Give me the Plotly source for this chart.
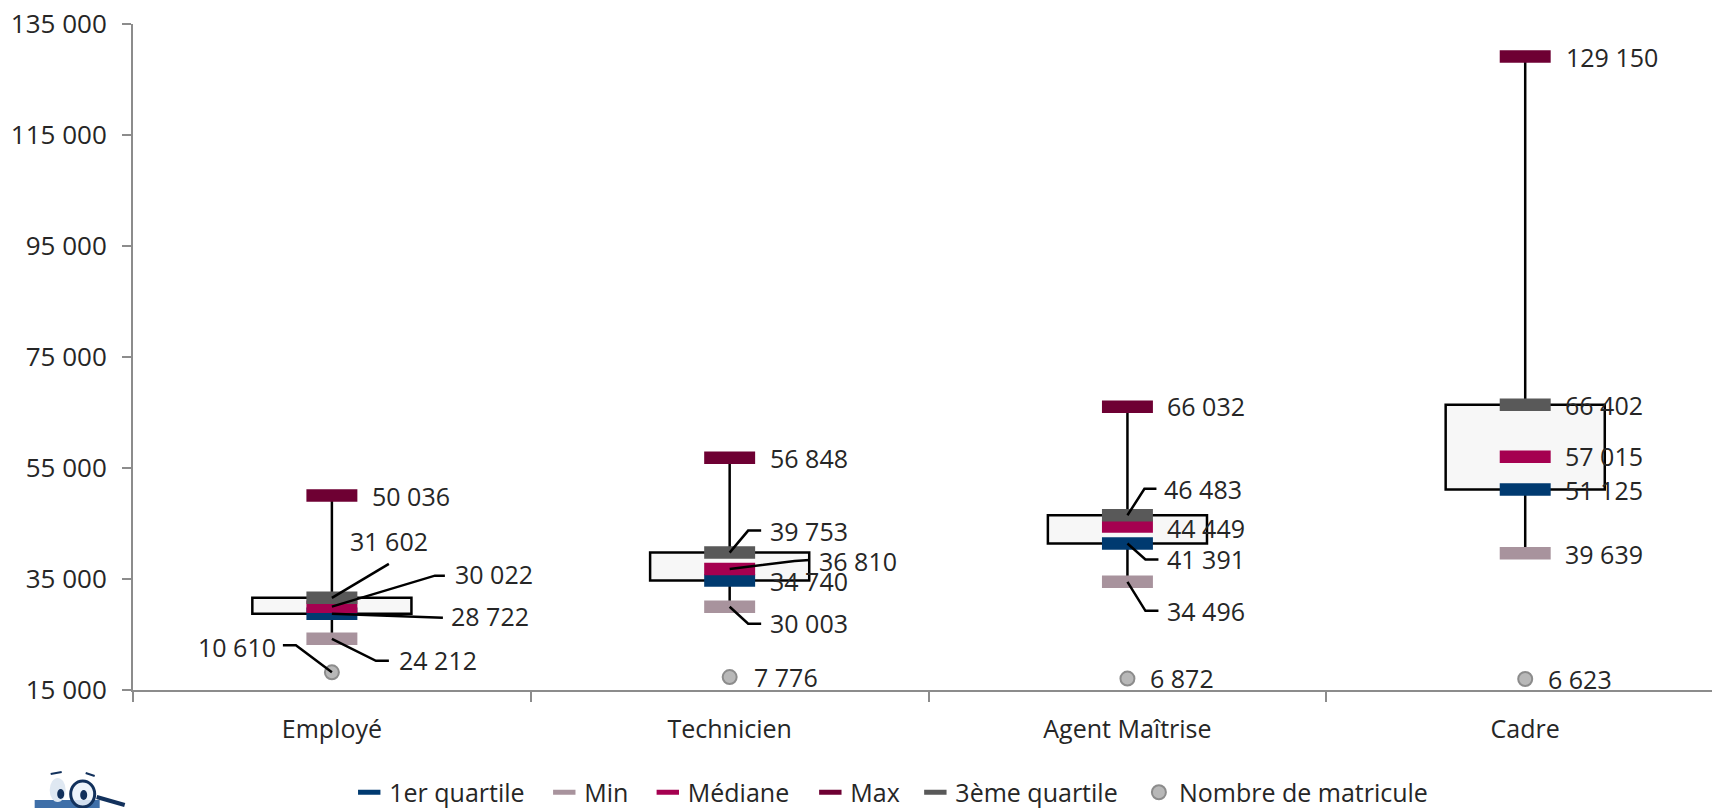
import plotly.graph_objects as go

# ---------- data ----------
categories = ["Employé", "Technicien", "Agent Maîtrise", "Cadre"]
q1_values = [28722, 34740, 41391, 51125]
min_values = [24212, 30003, 34496, 39639]
median_values = [30022, 36810, 44449, 57015]
max_values = [50036, 56848, 66032, 129150]
q3_values = [31602, 39753, 46483, 66402]
count_values = [10610, 7776, 6872, 6623]
y_ticks = [15000, 35000, 55000, 75000, 95000, 115000, 135000]

# ---------- styling ----------
FONT = "Open Sans"
FS = 25
TXT = "#262626"
AXIS = "#8c8c8c"
W, H = 1712, 840   # page is clipped to 808 in the window
L, T, B = 133.3, 24, 690
UNIT = 397.7

# label offsets in pixels: left edge relative to category centre, height above the value
label_offsets = {
    "q1": [(119, -4), (40.5, -2), (40, -17), (40, -1.5)],
    "min": [(67, -23), (40, -18), (40, -31), (40, -2)],
    "med": [(123, 31), (89, 6), (40, -2.5), (40, -1)],
    "max": [(40.5, -2), (40.5, -2), (40, -1), (41, -2.5)],
    "q3": [(18, 55), (40, 20), (37, 25), (40, -2)],
    "n": [(-134, 24), (24.5, -1), (23, -1), (23, -2)],
}
LABEL_DX, LABEL_DY = -2, 1.5
# leader lines: series, category index, pixel polyline from the value
leaders = [
    ("q3", 0, [(57, 34)]),
    ("med", 0, [(103, 31), (113, 31)]),
    ("q1", 0, [(111, -4)]),
    ("min", 0, [(44, -22), (57, -22)]),
    ("n", 0, [(-36, 27), (-49, 27)]),
    ("q3", 1, [(18.5, 22), (31.5, 22)]),
    ("med", 1, [(65, 8), (80, 9)]),
    ("min", 1, [(18.5, -17), (31.5, -17)]),
    ("q3", 2, [(17, 26.5), (29, 26.5)]),
    ("q1", 2, [(18, -16), (31, -16)]),
    ("min", 2, [(18, -29), (31, -29)]),
]

series = {
    "q1": ("1er quartile", q1_values, "#003a70"),
    "min": ("Min", min_values, "#a8939d"),
    "med": ("Médiane", median_values, "#a50050"),
    "max": ("Max", max_values, "#6e0033"),
    "q3": ("3ème quartile", q3_values, "#595959"),
}
# legend entry symbol centres (page pixels)
legend_centres = [374.5, 569.5, 673, 835.5, 940.5, 1164]
LEGEND_KEYS = ["legend", "legend2", "legend3", "legend4", "legend5", "legend6"]

fig = go.Figure()

# Box Q1 -> Q3
fig.add_trace(go.Bar(
    x=categories, base=q1_values,
    y=[b - a for a, b in zip(q1_values, q3_values)],
    width=0.40, marker=dict(color="#f7f7f7", line=dict(color="#000000", width=2.5)),
    showlegend=False, hoverinfo="skip",
))

# Whiskers
wx, wy = [], []
for c, lo, a, b, hi in zip(categories, min_values, q1_values, q3_values, max_values):
    wx += [c, c, None, c, c, None]
    wy += [lo, a, None, b, hi, None]
fig.add_trace(go.Scatter(x=wx, y=wy, mode="lines", line=dict(color="#000000", width=2.5),
                         showlegend=False, hoverinfo="skip"))

# Dash markers (a line-ew symbol is 1.4 x its size wide)
for lk, (key, (name, vals, col)) in zip(LEGEND_KEYS, series.items()):
    fig.add_trace(go.Scatter(
        x=categories, y=vals, name=name, mode="markers", cliponaxis=False, legend=lk,
        marker=dict(symbol="line-ew", size=36.4, color=col, line=dict(color=col, width=12.5)),
    ))

# Headcount on hidden secondary axis
fig.add_trace(go.Scatter(
    x=categories, y=count_values, name="Nombre de matricule", mode="markers", yaxis="y2",
    cliponaxis=False, legend=LEGEND_KEYS[5],
    marker=dict(symbol="circle", size=14, color="#b8b8b8", line=dict(color="#8c8c8c", width=2)),
))

values = {k: v[1] for k, v in series.items()}
values["n"] = count_values


def yref(key):
    return "y2" if key == "n" else "y"


annotations = []
for key, offs in label_offsets.items():
    for c, v, (dx, dy) in zip(categories, values[key], offs):
        annotations.append(dict(
            x=c, y=v, xref="x", yref=yref(key), text=f"{v:,}".replace(",", " "),
            showarrow=False, xanchor="left", yanchor="middle",
            xshift=dx + LABEL_DX, yshift=dy + LABEL_DY,
            font=dict(family=FONT, size=FS, color=TXT),
        ))

shapes = []
for key, i, pts in leaders:
    path = "M0,0 " + " ".join(f"L{px},{py}" for px, py in pts)
    shapes.append(dict(
        type="path", xref="x", yref=yref(key), xsizemode="pixel", ysizemode="pixel",
        xanchor=categories[i], yanchor=values[key][i], path=path,
        line=dict(color="#000000", width=2.5), layer="above",
    ))


# Small mascot in the lower-left corner (pixel position -> paper coordinates)
def px(x):
    return (x - L) / (W - L)


def py(y):
    return (B - y) / (B - T)


def oval(cx, cy, rx, ry, fill, line=None, lw=0):
    return dict(type="circle", xref="paper", yref="paper", x0=px(cx - rx), x1=px(cx + rx),
                y0=py(cy + ry), y1=py(cy - ry), fillcolor=fill,
                line=dict(color=line or fill, width=lw))


shapes += [
    dict(type="rect", xref="paper", yref="paper", x0=px(35), x1=px(100), y0=py(810), y1=py(800),
         fillcolor="#3f6fa8", line=dict(width=0)),
    oval(58, 790, 8, 12, "#dfe8f2"),
    oval(61, 794, 3.5, 5, "#12315c"),
    oval(83, 794, 12, 13, "rgba(235,242,250,0.85)", "#12315c", 3),
    oval(84, 795, 3.5, 5, "#12315c"),
    dict(type="line", xref="paper", yref="paper", x0=px(97), x1=px(125), y0=py(797), y1=py(805),
         line=dict(color="#12315c", width=4)),
    dict(type="line", xref="paper", yref="paper", x0=px(51), x1=px(62), y0=py(774), y1=py(772),
         line=dict(color="#12315c", width=2)),
    dict(type="line", xref="paper", yref="paper", x0=px(86), x1=px(95), y0=py(773), y1=py(776),
         line=dict(color="#12315c", width=2)),
]

legend_layout = {}
for lk, cx in zip(LEGEND_KEYS, legend_centres):
    legend_layout[lk] = dict(
        orientation="h", x=px(cx - 25), xanchor="left", y=py(769.5), yanchor="top",
        itemwidth=30, font=dict(family=FONT, size=FS, color=TXT), bgcolor="rgba(0,0,0,0)",
    )

fig.update_layout(
    width=W, height=H, autosize=False,
    margin=dict(l=L, r=0, t=T, b=H - B, pad=0),
    paper_bgcolor="#ffffff", plot_bgcolor="#ffffff",
    separators=", ",
    font=dict(family=FONT, size=FS, color=TXT),
    xaxis=dict(
        type="category", categoryorder="array", categoryarray=categories,
        range=[-0.5, -0.5 + (W - L) / UNIT], tickson="boundaries",
        showgrid=False, zeroline=False, showline=True, linecolor=AXIS, linewidth=2,
        ticks="outside", ticklen=10, tickwidth=2, tickcolor=AXIS, ticklabelstandoff=16,
    ),
    yaxis=dict(
        range=[15000, 135000], tickvals=y_ticks, tickformat=",d",
        showgrid=False, zeroline=False, showline=True, linecolor=AXIS, linewidth=2,
        ticks="outside", ticklen=9, tickwidth=2, tickcolor=AXIS, ticklabelstandoff=10,
        tickfont=dict(family=FONT, size=26, color=TXT),
    ),
    yaxis2=dict(overlaying="y", range=[0, 400000], visible=False),
    annotations=annotations, shapes=shapes,
    **legend_layout,
)

fig.write_html(
    "out.html",
    config=dict(displayModeBar=False),
    post_script="document.documentElement.style.overflow='hidden';"
                "document.body.style.overflow='hidden';document.body.style.margin='0';",
)
